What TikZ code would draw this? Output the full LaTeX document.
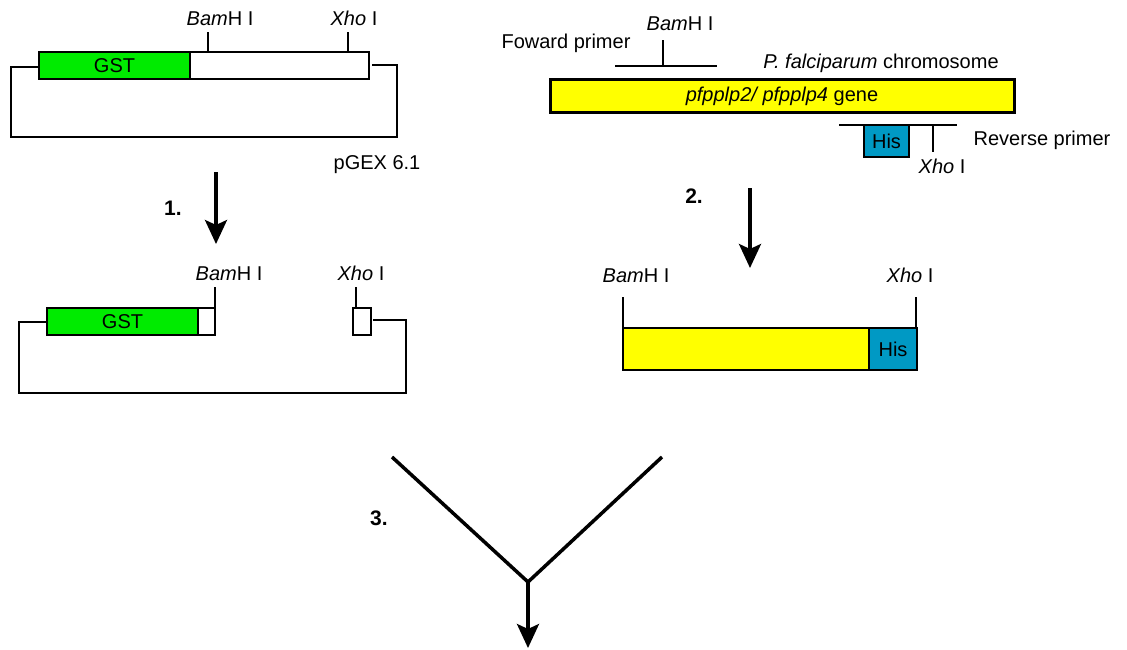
\documentclass[tikz,border=0pt]{standalone}
\usepackage{fontspec}
\setmainfont{Liberation Sans}
\usetikzlibrary{arrows.meta}
\definecolor{gstgreen}{RGB}{0,235,0}
\definecolor{geneyellow}{RGB}{255,255,0}
\definecolor{hisblue}{RGB}{0,153,196}
\begin{document}
\begin{tikzpicture}[x=1pt,y=-1pt,
  lbl/.style={font=\fontsize{20}{24}\selectfont, inner sep=0pt},
  num/.style={font=\fontsize{21}{25}\selectfont\bfseries, inner sep=0pt},
  seg/.style={draw=black, line width=1.8pt, inner sep=0pt, outer sep=0pt, anchor=north west, font=\fontsize{20}{24}\selectfont},
  wire/.style={line width=1.8pt},
  thickline/.style={line width=3.5pt},
  bigarrow/.style={line width=3.5pt, -{Stealth[length=24pt,width=22pt,inset=5pt]}}
]
\useasboundingbox (0,0) rectangle (1127,650);

% ---------- pGEX 6.1 (top left)
\draw[wire] (39,67) -- (11,67) -- (11,137) -- (397,137) -- (397,65) -- (372,65);
\node[seg, fill=gstgreen, minimum width=151pt, minimum height=27pt] (gstA) at (39,52) {GST};
\node[seg, fill=white, minimum width=179pt, minimum height=27pt] (mcsA) at (190,52) {};
\coordinate (bamAb) at (208,52);
\coordinate (bamAt) at (208,32);
\coordinate (xhoAb) at (348,52);
\coordinate (xhoAt) at (348,32);
\draw[wire] (bamAb) -- (bamAt);
\draw[wire] (xhoAb) -- (xhoAt);
\node[lbl, anchor=base] (bamAl) at (220,26) {\textit{Bam}H I};
\node[lbl, anchor=base] (xhoAl) at (354,26) {\textit{Xho} I};
\node[lbl, anchor=base] (pgex) at (377,169) {pGEX 6.1};

% ---------- step 1 arrow
\coordinate (a1s) at (216,172);
\coordinate (a1e) at (216,244);
\draw[bigarrow] (a1s) -- (a1e);
\node[num] (n1) at (173,208) {1.};

% ---------- cut vector (middle left)
\draw[wire] (47,322) -- (19,322) -- (19,393) -- (406,393) -- (406,320) -- (373,320);
\node[seg, fill=gstgreen, minimum width=151pt, minimum height=27pt] (gstB) at (47,308) {GST};
\node[seg, fill=white, minimum width=17pt, minimum height=27pt] (stubB1) at (198,308) {};
\node[seg, fill=white, minimum width=18pt, minimum height=27pt] (stubB2) at (353,308) {};
\coordinate (bamBb) at (215,308);
\coordinate (bamBt) at (215,287);
\coordinate (xhoBb) at (356,308);
\coordinate (xhoBt) at (356,287);
\draw[wire] (bamBb) -- (bamBt);
\draw[wire] (xhoBb) -- (xhoBt);
\node[lbl, anchor=base] (bamBl) at (229,280) {\textit{Bam}H I};
\node[lbl, anchor=base] (xhoBl) at (361,280) {\textit{Xho} I};

% ---------- chromosome (top right)
\node[seg, fill=geneyellow, line width=3pt, minimum width=464pt, minimum height=33pt] (gene) at (550,80) {\textit{pfpplp2/ pfpplp4} gene};
\coordinate (fpl) at (615,66);
\coordinate (fpr) at (717,66);
\coordinate (fpt) at (663,40);
\coordinate (fpm) at (663,66);
\draw[wire] (fpl) -- (fpr);
\draw[wire] (fpm) -- (fpt);
\node[lbl, anchor=base] (bamCl) at (680,31) {\textit{Bam}H I};
\node[lbl, anchor=base] (fwd) at (566,49) {Foward primer};
\node[lbl, anchor=base] (chrom) at (881,69) {\textit{P. falciparum} chromosome};
\coordinate (rpl) at (839,125);
\coordinate (rpr) at (957,125);
\coordinate (rpm) at (933,125);
\coordinate (rpt) at (933,152);
\draw[wire] (rpl) -- (rpr);
\node[seg, fill=hisblue, minimum width=45pt, minimum height=32pt] (hisC) at (864,125) {His};
\draw[wire] (rpm) -- (rpt);
\node[lbl, anchor=base] (xhoCl) at (942,173) {\textit{Xho} I};
\node[lbl, anchor=base] (rev) at (1042,146) {Reverse primer};

% ---------- step 2 arrow
\coordinate (a2s) at (750,188);
\coordinate (a2e) at (750,268);
\draw[bigarrow] (a2s) -- (a2e);
\node[num] (n2) at (694,196) {2.};

% ---------- PCR product (middle right)
\node[seg, fill=geneyellow, minimum width=246pt, minimum height=42pt] (prod) at (623,328) {};
\node[seg, fill=hisblue, minimum width=48pt, minimum height=42pt] (hisD) at (869,328) {His};
\coordinate (bamDb) at (623,328);
\coordinate (bamDt) at (623,297);
\coordinate (xhoDb) at (916,328);
\coordinate (xhoDt) at (916,297);
\draw[wire] (bamDb) -- (bamDt);
\draw[wire] (xhoDb) -- (xhoDt);
\node[lbl, anchor=base] (bamDl) at (636,282) {\textit{Bam}H I};
\node[lbl, anchor=base] (xhoDl) at (910,282) {\textit{Xho} I};

% ---------- step 3 (ligation)
\coordinate (vl) at (392,457);
\coordinate (vr) at (662,457);
\coordinate (vm) at (528,582);
\coordinate (vend) at (528,648);
\draw[thickline, line join=miter] (vl) -- (vm) -- (vr);
\draw[bigarrow] (vm) -- (vend);
\node[num] (n3) at (379,518) {3.};
\end{tikzpicture}
\end{document}
